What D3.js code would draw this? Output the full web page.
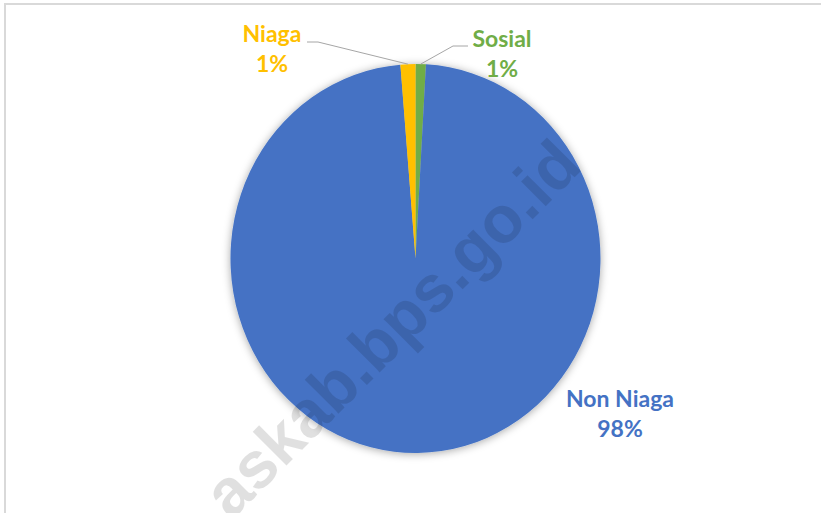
<!DOCTYPE html>
<html>
<head>
<meta charset="utf-8">
<script src="https://cdn.jsdelivr.net/npm/d3@7"></script>
<style>
  body { margin: 0; background: #fff; }
  text { font-family: Lato, "Open Sans", sans-serif; font-weight: bold; }
</style>
</head>
<body>
<div id="chart"></div>
<script>
// slice data, clockwise from 12 o'clock
var categories = ["Sosial", "Non Niaga", "Niaga"];
var values = [0.9, 97.8, 1.3];
var pctLabels = ["1%", "98%", "1%"];
var colors = ["#70AD47", "#4472C4", "#FFC000"];

var width = 821, height = 513;
var cx = 415.5, cy = 258.5, rx = 185, ry = 194.5;

var svg = d3.select("#chart").append("svg")
  .attr("width", width)
  .attr("height", height);

// chart area frame (only top and left visible)
svg.append("path")
  .attr("d", "M5," + height + "V4H" + width)
  .attr("fill", "none")
  .attr("stroke", "#d9d9d9")
  .attr("stroke-width", 2);

var defs = svg.append("defs");
var shadow = defs.append("filter").attr("id", "shadow")
  .attr("x", "-20%").attr("y", "-20%").attr("width", "140%").attr("height", "140%");
shadow.append("feDropShadow")
  .attr("dx", 0).attr("dy", 1)
  .attr("stdDeviation", 4)
  .attr("flood-color", "#000")
  .attr("flood-opacity", 0.35);

var pie = d3.pie().sort(null).value(d => d)(values);
var arc = d3.arc().innerRadius(0).outerRadius(rx);

var pieG = svg.append("g")
  .attr("transform", "translate(" + cx + "," + cy + ") scale(1," + (ry / rx) + ")")
  .attr("filter", "url(#shadow)");

pieG.selectAll("path")
  .data(pie)
  .enter().append("path")
    .attr("d", arc)
    .attr("fill", (d, i) => colors[i]);

// labels: x, baseline of first line, leader line points
var labelPos = {
  "Sosial":    {x: 502, y: 47, line: [[468, 46], [453, 46]]},
  "Non Niaga": {x: 620, y: 407, line: null},
  "Niaga":     {x: 272, y: 42, line: [[307, 42], [318, 42]]}
};

var labels = svg.append("g");
pie.forEach(function(d, i) {
  var p = labelPos[categories[i]];
  if (p.line) {
    // end point on pie edge at middle of slice
    var a = (d.startAngle + d.endAngle) / 2;
    var ex = cx + rx * Math.sin(a), ey = cy - ry * Math.cos(a);
    var pts = p.line.concat([[ex, ey]]);
    labels.append("path")
      .attr("d", d3.line()(pts))
      .attr("fill", "none")
      .attr("stroke", "#a6a6a6")
      .attr("stroke-width", 1);
  }
  var t = labels.append("text")
    .attr("text-anchor", "middle")
    .attr("fill", colors[i])
    .style("font-size", "23px");
  t.append("tspan").attr("x", p.x).attr("y", p.y).text(categories[i]);
  t.append("tspan").attr("x", p.x).attr("y", p.y + 30).text(pctLabels[i]);
});

// watermark
svg.append("text")
  .attr("transform", "translate(584,168) rotate(-45)")
  .attr("text-anchor", "end")
  .attr("fill", "#000")
  .attr("fill-opacity", 0.12)
  .style("font-family", "'Liberation Sans', Arial, sans-serif")
  .style("font-size", "66px")
  .text("askab.bps.go.id");
</script>
</body>
</html>
